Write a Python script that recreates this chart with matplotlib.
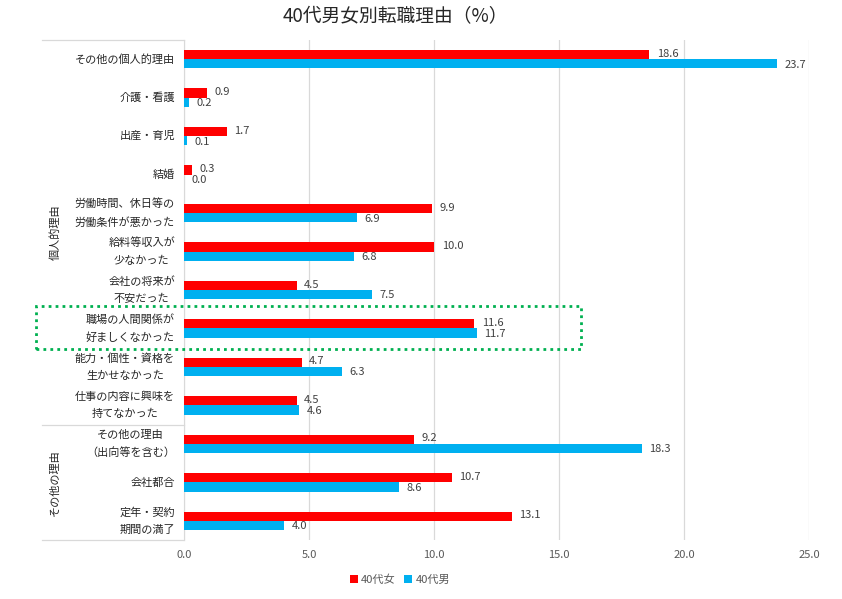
import matplotlib.pyplot as plt
from matplotlib.patches import Rectangle
from matplotlib.lines import Line2D
import numpy as np

plt.rcParams['font.family'] = ['Noto Sans CJK JP', 'DejaVu Sans']

# ─── data ────────────────────────────────────────────────────────────────────
categories = [
    "その他の個人的理由",
    "介護・看護",
    "出産・育児",
    "結婚",
    "労働時間、休日等の\n労働条件が悪かった",
    "給料等収入が\n少なかった",
    "会社の将来が\n不安だった",
    "職場の人間関係が\n好ましくなかった",
    "能力・個性・資格を\n生かせなかった",
    "仕事の内容に興味を\n持てなかった",
    "その他の理由\n（出向等を含む）",
    "会社都合",
    "定年・契約\n期間の満了",
]
female = [18.6, 0.9, 1.7, 0.3, 9.9, 10.0, 4.5, 11.6, 4.7, 4.5, 9.2, 10.7, 13.1]
male   = [23.7, 0.2, 0.1, 0.0, 6.9, 6.8, 7.5, 11.7, 6.3, 4.6, 18.3, 8.6, 4.0]
groups = [("個人的理由", 0, 9), ("その他の理由", 10, 12)]
xticks = [0, 5, 10, 15, 20, 25]

RED, BLUE = "#FF0000", "#00B0F0"
W, H = 842, 599

fig = plt.figure(figsize=(W / 100, H / 100), dpi=100)
ax = fig.add_axes([184 / W, 1 - 540 / H, (809 - 184) / W, (540 - 40) / H])

y = np.arange(len(categories))
bh = 0.24
ax.barh(y - bh / 2, female, height=bh, color=RED, label="40代女", zorder=3)
ax.barh(y + bh / 2, male, height=bh, color=BLUE, label="40代男", zorder=3)

# value labels, nudged apart a little so close pairs stay readable
for yi, v in zip(y, female):
    ax.annotate(f"{v:.1f}", (v, yi - bh / 2), xytext=(5.5, 0.6), textcoords="offset points",
                va="center", ha="left", fontsize=8, color="#404040")
for yi, v in zip(y, male):
    ax.annotate(f"{v:.1f}", (v, yi + bh / 2), xytext=(5.5, -0.6), textcoords="offset points",
                va="center", ha="left", fontsize=8, color="#404040")

ax.set_xlim(0, 25)
ax.set_ylim(len(categories) - 0.5, -0.5)
ax.set_xticks(xticks)
ax.set_xticklabels([f"{t:.1f}" for t in xticks], fontsize=8, color="#595959")
ax.tick_params(axis="x", length=0, pad=7)
ax.set_yticks([])
ax.grid(axis="x", color="#D9D9D9", lw=0.9, zorder=0)
for s in ["top", "right", "bottom"]:
    ax.spines[s].set_visible(False)
ax.spines["left"].set_color("#D9D9D9")

# category labels on the left
trans = ax.get_yaxis_transform()
lab_x = -9 / (809 - 184)
for yi, c in zip(y, categories):
    ax.text(lab_x, yi, c, transform=trans, ha="right", va="center",
            multialignment="center", fontsize=8, color="#262626", linespacing=1.85)

# group boxes and vertical group labels
box_x = -(184 - 42) / (809 - 184)
line_kw = dict(color="#D9D9D9", lw=0.9, transform=trans, clip_on=False)
edges = [-0.5, 9.5, 12.5]
for e in edges:
    ax.add_line(Line2D([box_x, 0], [e, e], **line_kw))
for name, a, b in groups:
    ax.text(-(184 - 55) / (809 - 184), (a + b) / 2, name, transform=trans, rotation=90,
            ha="center", va="center", fontsize=8, color="#262626")

# highlight box
fig.patches.append(Rectangle((36 / W, 1 - 349 / H), (581 - 36) / W, (349 - 306) / H,
                             transform=fig.transFigure, fill=False, edgecolor="#00B050",
                             lw=2, linestyle=(0, (1, 1.5))))

fig.text(395 / W, 1 - 17 / H, "40代男女別転職理由（%）", ha="center", va="center",
         fontsize=13.5, color="#262626")

fig.legend(loc="center", bbox_to_anchor=(400 / W, 1 - 580 / H), ncol=2, frameon=False,
           fontsize=8, handlelength=0.7, handleheight=0.7, handletextpad=0.3,
           columnspacing=0.8, labelcolor="#595959")

fig.savefig("out.png", dpi=100)
